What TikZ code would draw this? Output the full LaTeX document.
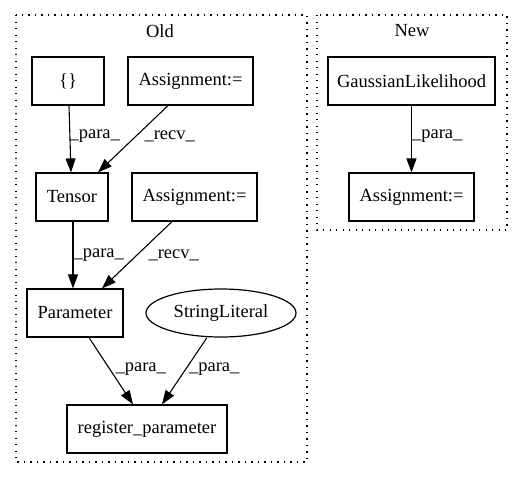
\documentclass[tikz,border=0pt]{standalone}
\usepackage{fontspec}
\setmainfont{Liberation Serif}
\usetikzlibrary{shapes.geometric,arrows.meta}
\begin{document}
\begin{tikzpicture}[x=1pt,y=-1pt,
  font=\fontsize{18.5}{21}\selectfont,
  box/.style={draw, line width=1.2pt, minimum height=48pt, inner sep=0pt},
  oval/.style={draw, ellipse, line width=1.2pt, minimum height=48pt, minimum width=150pt, inner sep=0pt},
  clus/.style={draw, line width=1.3pt, dash pattern=on 1.3pt off 5.2pt},
  edge/.style={line width=1.1pt, -{Triangle[length=14pt,width=10pt]}},
  lbl/.style={inner sep=0pt, anchor=west}]
\useasboundingbox (0,0) rectangle (523,480);
% clusters
\draw[clus] (16,15) rectangle (307,462);
\draw[clus] (317,15) rectangle (507,230);
\node (old) at (160,31) {Old};
\node (new) at (412,31) {New};
% nodes
\node[box, minimum width=72pt] (brace) at (68,81) {\{\}};
\node[box, minimum width=125pt] (a1) at (190.5,81) {Assignment:=};
\node[box, minimum width=72pt] (tensor) at (72,197) {Tensor};
\node[box, minimum width=125pt] (a2) at (194.5,197) {Assignment:=};
\node[box, minimum width=96pt] (param) at (75,313) {Parameter};
\node[oval] (sl) at (221,313) {StringLiteral};
\node[box, minimum width=160pt] (reg) at (147,429) {register\_parameter};
\node[box, minimum width=167pt] (gl) at (411.5,81) {GaussianLikelihood};
\node[box, minimum width=125pt] (a3) at (411.5,197) {Assignment:=};
% edges
\draw[edge] ([xshift=1pt]brace.south) -- ([xshift=-1pt]tensor.north)
  node[lbl, pos=0.5, xshift=-1pt, yshift=3pt] {\_para\_};
\draw[edge] ([xshift=-22.5pt]a1.south) -- ([xshift=26pt]tensor.north)
  node[lbl, pos=0.5, xshift=11pt, yshift=3pt] {\_recv\_};
\draw[edge] ([xshift=1pt]tensor.south) -- ([xshift=-2pt]param.north)
  node[lbl, pos=0.5, xshift=0pt, yshift=0pt] {\_para\_};
\draw[edge] ([xshift=-22.5pt]a2.south) -- ([xshift=27pt]param.north)
  node[lbl, pos=0.5, xshift=11pt, yshift=0pt] {\_recv\_};
\draw[edge] ([xshift=14pt]param.south) -- ([xshift=-14pt]reg.north)
  node[lbl, pos=0.5, xshift=4pt, yshift=2pt] {\_para\_};
\draw[edge] ([xshift=-14pt]sl.south) -- ([xshift=15pt]reg.north)
  node[lbl, pos=0.5, xshift=4pt, yshift=2pt] {\_para\_};
\draw[edge] (gl) -- (a3)
  node[lbl, pos=0.5, xshift=0pt, yshift=3pt] {\_para\_};
\end{tikzpicture}
\end{document}
